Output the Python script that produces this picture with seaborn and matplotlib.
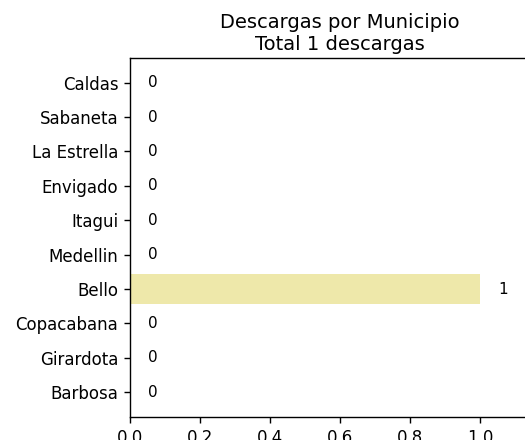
import pandas as pd
import matplotlib
matplotlib.use("Agg")
import matplotlib.pyplot as plt
import seaborn as sns

# data
municipios = ["Caldas", "Sabaneta", "La Estrella", "Envigado", "Itagui",
              "Medellin", "Bello", "Copacabana", "Girardota", "Barbosa"]
descargas = [0, 0, 0, 0, 0, 0, 1, 0, 0, 0]
total = sum(descargas)
xticks = [0.0, 0.2, 0.4, 0.6, 0.8, 1.0]

df = pd.DataFrame({"municipio": municipios, "descargas": descargas})

fig = plt.figure(figsize=(5.25, 4.4), dpi=100)
ax = fig.add_axes([0.2476, 0.0523, 0.80, 0.816])

sns.barplot(data=df, x="descargas", y="municipio", orient="h",
            color="palegoldenrod", saturation=1, width=0.875, ax=ax)

# value labels next to each bar
for i, v in enumerate(df["descargas"]):
    ax.text(v + 0.066, i, str(v), ha="center", va="center", fontsize=11)

ax.set_xlim(0, 1.2)
ax.set_ylim(9.72, -0.72)
ax.set_xticks(xticks)
ax.set_xlabel("")
ax.set_ylabel("")
ax.tick_params(axis="both", labelsize=12, length=4.2, width=1, pad=4.2,
               left=True, bottom=True)
for s in ax.spines.values():
    s.set_linewidth(1)
ax.set_title(f"Descargas por Municipio\nTotal {total} descargas", fontsize=14)

fig.savefig("out.png", dpi=100)
